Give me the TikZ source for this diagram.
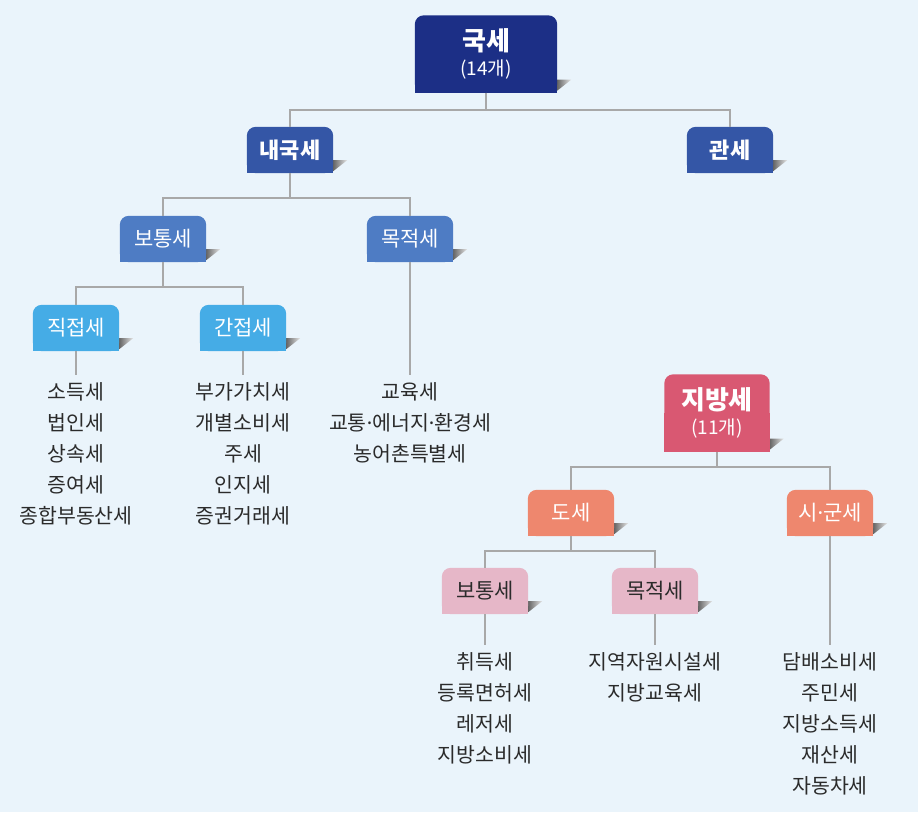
\documentclass[tikz,border=0pt]{standalone}
\usepackage{fontspec}
\setmainfont{Noto Sans CJK KR}
\newfontfamily\dotfont{Noto Sans}
\newcommand{\gaundot}{{\dotfont ·}}
\usetikzlibrary{positioning}
\usetikzlibrary{backgrounds}

\definecolor{bgblue}{HTML}{EAF4FB}
\definecolor{navy}{HTML}{1C2F86}
\definecolor{midblue}{HTML}{3456A6}
\definecolor{softblue}{HTML}{4E7CC4}
\definecolor{skyblue}{HTML}{45ACE6}
\definecolor{rose}{HTML}{D95872}
\definecolor{salmon}{HTML}{EE876E}
\definecolor{palepink}{HTML}{E6B7C8}
\definecolor{linegray}{HTML}{A8A8A8}
\definecolor{textgray}{HTML}{2B2B2B}

\begin{document}
\begin{tikzpicture}[
    x=1pt,y=-1pt,
    box/.style={rectangle,minimum width=86pt,minimum height=46pt,inner sep=0pt,
                text=white,font=\fontsize{21}{23}\selectfont},
    boldbox/.style={box,font=\fontsize{22}{24}\bfseries\selectfont},
    bigbox/.style={box,align=center,font=\fontsize{26}{28}\bfseries\selectfont},
    darktext/.style={text=textgray},
    itemlist/.style={align=center,anchor=north,inner xsep=0pt,inner ysep=7pt,
                     text=textgray,font=\fontsize{20.5}{31}\selectfont},
    conn/.style={draw=linegray,line width=1.4pt}
]

% 국세 쪽 (위)
\node[bigbox,minimum width=142pt,minimum height=77pt] (gukse) at (486,54)
    {국세\\[-3pt]{\fontsize{19}{21}\mdseries\selectfont(14개)}};
\node[boldbox] (naegukse) at (290,150) {내국세};
\node[boldbox] (gwanse) at (730,150) {관세};
\node[box] (botong) at (163,239) {보통세};
\node[box] (mokjeok) at (410,239) {목적세};
\node[box] (jikjeop) at (76,328) {직접세};
\node[box] (ganjeop) at (243,328) {간접세};

% 국세 세목
\node[itemlist] (jiklist) at (76,375) {소득세\\법인세\\상속세\\증여세\\종합부동산세};
\node[itemlist] (ganlist) at (243,375) {부가가치세\\개별소비세\\주세\\인지세\\증권거래세};
\node[itemlist] (moklist) at (410,375)
    {교육세\\교통\gaundot 에너지\gaundot 환경세\\농어촌특별세};

% 지방세 쪽 (아래 오른쪽)
\node[bigbox,minimum width=105pt,minimum height=77pt] (jibangse) at (717,413)
    {지방세\\[-3pt]{\fontsize{19}{21}\mdseries\selectfont(11개)}};
\node[box] (dose) at (571,513) {도세};
\node[box] (sigunse) at (830,513) {시\gaundot 군세};
\node[box,darktext] (lbotong) at (485,591) {보통세};
\node[box,darktext] (lmokjeok) at (655,591) {목적세};

% 지방세 세목
\node[itemlist] (lbotlist) at (485,645) {취득세\\등록면허세\\레저세\\지방소비세};
\node[itemlist] (lmoklist) at (655,645) {지역자원시설세\\지방교육세};
\node[itemlist] (sigunlist) at (830,645) {담배소비세\\주민세\\지방소득세\\재산세\\자동차세};

% 분기점
\coordinate (j1) at (486,110);
\coordinate (j2) at (290,198);
\coordinate (j3) at (163,287);
\coordinate (j4) at (717,467);
\coordinate (j5) at (571,551);

% 연결선
\draw[conn] (gukse.south) -- (j1);
\draw[conn] (j1) -| (naegukse.north);
\draw[conn] (j1) -| (gwanse.north);
\draw[conn] (naegukse.south) -- (j2);
\draw[conn] (j2) -| (botong.north);
\draw[conn] (j2) -| (mokjeok.north);
\draw[conn] (botong.south) -- (j3);
\draw[conn] (j3) -| (jikjeop.north);
\draw[conn] (j3) -| (ganjeop.north);
\draw[conn] (jikjeop.south) -- (jiklist.north);
\draw[conn] (ganjeop.south) -- (ganlist.north);
\draw[conn] (mokjeok.south) -- (moklist.north);

\draw[conn] (jibangse.south) -- (j4);
\draw[conn] (j4) -| (dose.north);
\draw[conn] (j4) -| (sigunse.north);
\draw[conn] (dose.south) -- (j5);
\draw[conn] (j5) -| (lbotong.north);
\draw[conn] (j5) -| (lmokjeok.north);
\draw[conn] (lbotong.south) -- (lbotlist.north);
\draw[conn] (lmokjeok.south) -- (lmoklist.north);
\draw[conn] (sigunse.south) -- (sigunlist.north);

% 상자 바탕, 그림자 (뒤쪽 레이어)
\begin{scope}[on background layer]
  \fill[bgblue] (0,0) rectangle (918,812);
  \foreach \n/\c in {gukse/navy,naegukse/midblue,gwanse/midblue,
                     botong/softblue,mokjeok/softblue,jikjeop/skyblue,ganjeop/skyblue,
                     jibangse/rose,dose/salmon,sigunse/salmon,
                     lbotong/palepink,lmokjeok/palepink} {
    \shade[left color=black!60,right color=black!10]
      (\n.south east) ++(0,-13) -- ++(14,0) -- ([yshift=2pt]\n.south east) -- cycle;
    \fill[\c,rounded corners=9pt] (\n.south west) -- (\n.north west)
      -- (\n.north east) -- (\n.south east) -- cycle;
    \fill[\c] (\n.west) rectangle (\n.south east);
  }
\end{scope}

\useasboundingbox (0,0) rectangle (918,812);
\end{tikzpicture}
\end{document}
